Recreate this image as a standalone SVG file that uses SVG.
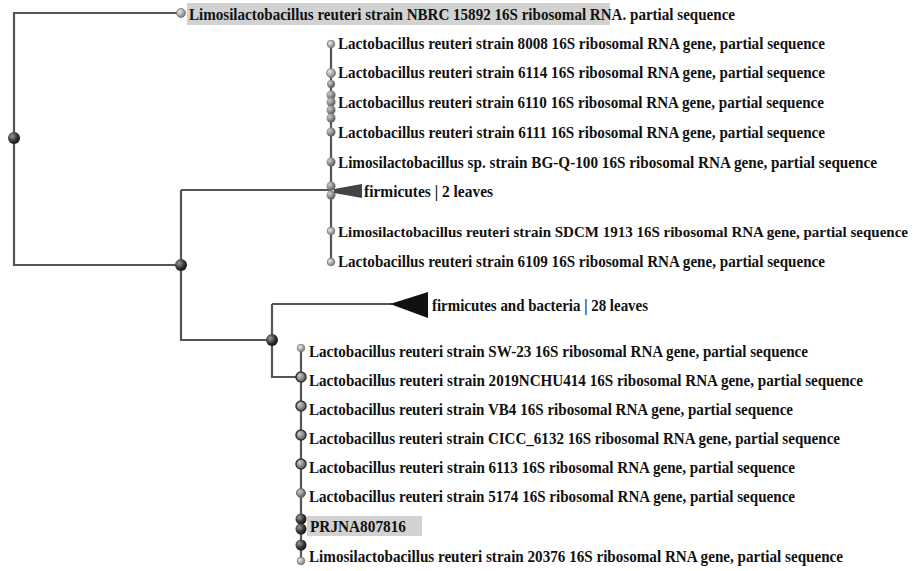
<svg xmlns="http://www.w3.org/2000/svg" width="917" height="571" viewBox="0 0 917 571">
<style>
.t{font-family:"Liberation Serif","Times New Roman",serif;font-size:16px;fill:#111;font-weight:bold}
.e{fill:none;stroke:#555;stroke-width:2.2}
</style>
<defs>
<radialGradient id="gl" cx="0.35" cy="0.35" r="0.7"><stop offset="0" stop-color="#eee"/><stop offset="1" stop-color="#777"/></radialGradient>
<radialGradient id="gd" cx="0.35" cy="0.35" r="0.7"><stop offset="0" stop-color="#999"/><stop offset="0.6" stop-color="#333"/><stop offset="1" stop-color="#111"/></radialGradient>
<radialGradient id="gm" cx="0.35" cy="0.35" r="0.7"><stop offset="0" stop-color="#ccc"/><stop offset="1" stop-color="#555"/></radialGradient>
</defs>
<rect width="917" height="571" fill="#fff"/>
<g id="edges">
<path class="e" d="M180,13 H14 V265 H181"/>
<path class="e" d="M181,190 V340 H272"/>
<path class="e" d="M181,190 H331"/>
<path class="e" d="M331,44 V262"/>
<path class="e" d="M272,304 V377 H301"/>
<path class="e" d="M272,304 H392"/>
<path class="e" d="M301,348 V561"/>
</g>
<g id="root"><circle cx="14" cy="138" r="6" fill="url(#gd)"/></g>
<g id="n1"><circle cx="181" cy="265" r="6" fill="url(#gd)"/></g>
<g id="n2"><circle cx="272" cy="340" r="6" fill="url(#gd)"/></g>
<g id="leaf-top">
<rect x="187" y="3" width="423" height="22" fill="#d2d2d2"/>
<circle cx="181" cy="13" r="4.5" fill="url(#gl)" stroke="#777" stroke-width="0.8"/>
<text class="t" x="189" y="20" textLength="546" lengthAdjust="spacingAndGlyphs">Limosilactobacillus reuteri strain NBRC 15892 16S ribosomal RNA. partial sequence</text>
</g>
<g id="clade-upper">
<circle cx="331" cy="44" r="3.8" fill="url(#gl)" stroke="#777" stroke-width="0.8"/>
<circle cx="331" cy="73" r="4.5" fill="url(#gl)" stroke="#777" stroke-width="0.8"/>
<circle cx="331" cy="84" r="4" fill="url(#gm)"/>
<circle cx="331" cy="95" r="4.5" fill="url(#gm)"/>
<circle cx="331" cy="102" r="4.5" fill="url(#gm)"/>
<circle cx="331" cy="110" r="4.5" fill="url(#gm)"/>
<circle cx="331" cy="118" r="4.5" fill="url(#gm)"/>
<circle cx="331" cy="132" r="4.5" fill="url(#gm)"/>
<circle cx="331" cy="162" r="4.5" fill="url(#gm)"/>
<circle cx="331" cy="186" r="4.5" fill="url(#gm)"/>
<circle cx="331" cy="195" r="4.5" fill="url(#gm)"/>
<circle cx="331" cy="231" r="3.8" fill="url(#gl)" stroke="#777" stroke-width="0.8"/>
<circle cx="331" cy="262" r="3.8" fill="url(#gl)" stroke="#777" stroke-width="0.8"/>
<polygon points="334,189 362,184 362,198 334,193" fill="#444"/>
<text class="t" x="338" y="49" textLength="487" lengthAdjust="spacingAndGlyphs">Lactobacillus reuteri strain 8008 16S ribosomal RNA gene, partial sequence</text>
<text class="t" x="338" y="78" textLength="487" lengthAdjust="spacingAndGlyphs">Lactobacillus reuteri strain 6114 16S ribosomal RNA gene, partial sequence</text>
<text class="t" x="338" y="108" textLength="486" lengthAdjust="spacingAndGlyphs">Lactobacillus reuteri strain 6110 16S ribosomal RNA gene, partial sequence</text>
<text class="t" x="338" y="138" textLength="487" lengthAdjust="spacingAndGlyphs">Lactobacillus reuteri strain 6111 16S ribosomal RNA gene, partial sequence</text>
<text class="t" x="338" y="168" textLength="539" lengthAdjust="spacingAndGlyphs">Limosilactobacillus sp. strain BG-Q-100 16S ribosomal RNA gene, partial sequence</text>
<text class="t" x="364" y="197" textLength="129" lengthAdjust="spacingAndGlyphs">firmicutes | 2 leaves</text>
<text class="t" x="338" y="237" style="font-size:14.5px" textLength="570" lengthAdjust="spacingAndGlyphs">Limosilactobacillus reuteri strain SDCM 1913 16S ribosomal RNA gene, partial sequence</text>
<text class="t" x="338" y="267" textLength="487" lengthAdjust="spacingAndGlyphs">Lactobacillus reuteri strain 6109 16S ribosomal RNA gene, partial sequence</text>
</g>
<g id="collapsed-28">
<polygon points="390,304 428,292 428,318" fill="#111"/>
<text class="t" x="432" y="311" textLength="216" lengthAdjust="spacingAndGlyphs">firmicutes and bacteria | 28 leaves</text>
</g>
<g id="clade-lower">
<rect x="307" y="516" width="115" height="20" fill="#d2d2d2"/>
<circle cx="301" cy="348" r="3.8" fill="url(#gl)" stroke="#777" stroke-width="0.8"/>
<circle cx="301" cy="377" r="5" fill="url(#gm)" stroke="#333" stroke-width="1.5"/>
<circle cx="301" cy="406" r="5" fill="url(#gm)" stroke="#333" stroke-width="1.5"/>
<circle cx="301" cy="435" r="5" fill="url(#gm)" stroke="#333" stroke-width="1.5"/>
<circle cx="301" cy="464" r="5" fill="url(#gm)" stroke="#333" stroke-width="1.5"/>
<circle cx="301" cy="493" r="4.5" fill="url(#gm)" stroke="#666" stroke-width="1"/>
<circle cx="301" cy="519" r="5.5" fill="url(#gd)"/>
<circle cx="301" cy="529" r="5.5" fill="url(#gd)"/>
<circle cx="301" cy="545" r="5.5" fill="url(#gd)"/>
<circle cx="301" cy="561" r="3.8" fill="url(#gl)" stroke="#777" stroke-width="0.8"/>
<text class="t" x="309" y="357" textLength="499" lengthAdjust="spacingAndGlyphs">Lactobacillus reuteri strain SW-23 16S ribosomal RNA gene, partial sequence</text>
<text class="t" x="309" y="386" textLength="554" lengthAdjust="spacingAndGlyphs">Lactobacillus reuteri strain 2019NCHU414 16S ribosomal RNA gene, partial sequence</text>
<text class="t" x="309" y="415" textLength="484" lengthAdjust="spacingAndGlyphs">Lactobacillus reuteri strain VB4 16S ribosomal RNA gene, partial sequence</text>
<text class="t" x="309" y="444" textLength="531" lengthAdjust="spacingAndGlyphs">Lactobacillus reuteri strain CICC_6132 16S ribosomal RNA gene, partial sequence</text>
<text class="t" x="309" y="473" textLength="486" lengthAdjust="spacingAndGlyphs">Lactobacillus reuteri strain 6113 16S ribosomal RNA gene, partial sequence</text>
<text class="t" x="309" y="502" textLength="486" lengthAdjust="spacingAndGlyphs">Lactobacillus reuteri strain 5174 16S ribosomal RNA gene, partial sequence</text>
<text class="t" x="310" y="532" textLength="96" lengthAdjust="spacingAndGlyphs">PRJNA807816</text>
<text class="t" x="309" y="562" textLength="534" lengthAdjust="spacingAndGlyphs">Limosilactobacillus reuteri strain 20376 16S ribosomal RNA gene, partial sequence</text>
</g>
</svg>
